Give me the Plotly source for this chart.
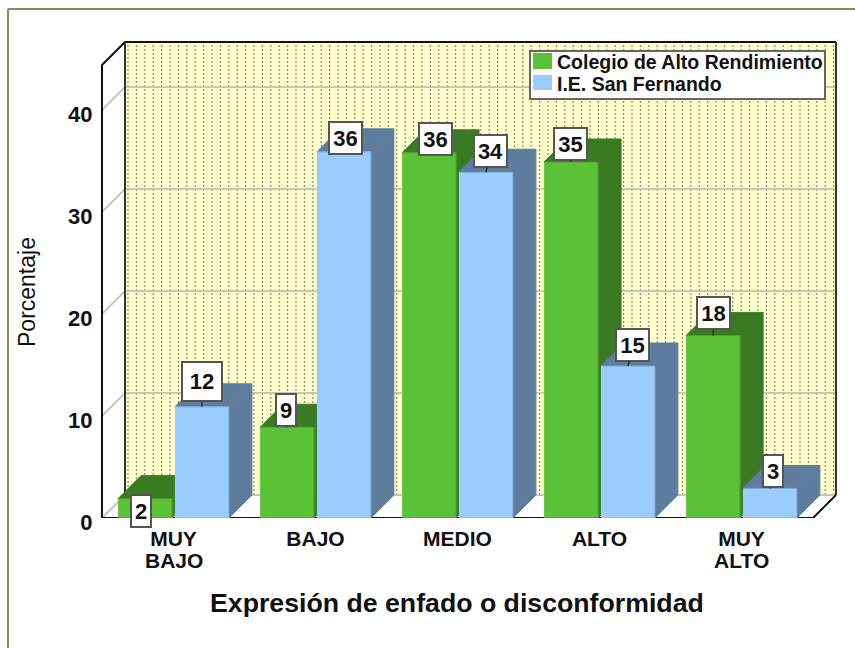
import plotly.graph_objects as go

categories_line1 = ["MUY", "BAJO", "MEDIO", "ALTO", "MUY"]
categories_line2 = ["BAJO", "", "", "", "ALTO"]
group_pos = [1, 2, 3, 4, 5]
colegio = [1.9, 8.9, 35.8, 34.9, 17.9]
san_fernando = [10.9, 35.9, 33.9, 14.9, 2.9]
colegio_labels = ["2", "9", "36", "35", "18"]
san_fernando_labels = ["12", "36", "34", "15", "3"]
y_ticks = [0, 10, 20, 30, 40]

# offset of each label box from the top of its bar, in pixels
colegio_offsets = [(-4, 12), (-1, -17), (6, -14), (-1, -18), (0, -22)]
san_fernando_offsets = [(0, -25), (2, -14), (5, -21), (5, -21), (3, -17)]
# the "12" box is drawn larger than the others in the original
colegio_boxes = [(20, 32), (20, 32), (33, 32), (33, 32), (33, 32)]
san_fernando_boxes = [(40, 39), (33, 32), (33, 32), (33, 32), (20, 32)]

WIDTH, HEIGHT = 855, 648
M_L, M_R, M_T, M_B = 100, 15, 40, 130
FONT = "Liberation Sans"
GREEN, GREEN_DARK, GREEN_LINE = "#5BC136", "#3A7A22", "#4A9A2C"
BLUE, BLUE_DARK, BLUE_LINE = "#99CCFF", "#5E7D9E", "#7FA8D0"
WALL = "#FFFFCC"
GRID = "#C8C8B8"
FRAME = "#6F9A55"


# picture pixels to data units
def xd(px):
    return 1 + (px - 173.5) / 142


def yd(py):
    return (518 - py) / 10.2


# picture pixels to paper units (paper is the plot area)
def xp(px):
    return (px - M_L) / (WIDTH - M_L - M_R)


def yp(py):
    return 1 - (py - M_T) / (HEIGHT - M_T - M_B)


DEPTH_X = 23 / 142
DEPTH_Y = 23 / 10.2
BAR_W = 0.38
BAR_OFF = 0.2
LEFT, RIGHT = xd(102), xd(813)
TOP = yd(65)

fig = go.Figure()


def add_poly(xs, ys, fill, line=None, width=1):
    fig.add_trace(go.Scatter(
        x=xs, y=ys, mode="lines", fill="toself", fillcolor=fill,
        line=dict(color=line or fill, width=width),
        hoverinfo="skip", showlegend=False,
    ))


def add_lines(xs, ys, color, width=2, dash=None):
    fig.add_trace(go.Scatter(
        x=xs, y=ys, mode="lines", line=dict(color=color, width=width, dash=dash),
        hoverinfo="skip", showlegend=False,
    ))


# walls
add_poly([LEFT, LEFT + DEPTH_X, LEFT + DEPTH_X, LEFT], [0, DEPTH_Y, TOP + DEPTH_Y, TOP], "white")
add_poly([LEFT + DEPTH_X, RIGHT + DEPTH_X, RIGHT + DEPTH_X, LEFT + DEPTH_X],
         [DEPTH_Y, DEPTH_Y, TOP + DEPTH_Y, TOP + DEPTH_Y], WALL)

# dotted columns on the back wall
dot_x, dot_y = [], []
col = 128.0
while col < 836:
    dot_x += [xd(col), xd(col), None]
    dot_y += [DEPTH_Y, TOP + DEPTH_Y, None]
    col += 8.4
add_lines(dot_x, dot_y, "#8A8A7A", width=1.2, dash="2px,2px")

# gridlines run along the left wall and the back wall
grid_x, grid_y = [], []
for v in y_ticks:
    grid_x += [LEFT, LEFT + DEPTH_X, RIGHT + DEPTH_X, None]
    grid_y += [v, v + DEPTH_Y, v + DEPTH_Y, None]
add_lines(grid_x, grid_y, GRID)

# wall outlines
add_lines([LEFT, LEFT, LEFT + DEPTH_X, RIGHT + DEPTH_X],
          [0, TOP, TOP + DEPTH_Y, TOP + DEPTH_Y], "#111111")
add_lines([LEFT + DEPTH_X, LEFT + DEPTH_X], [DEPTH_Y, TOP + DEPTH_Y], "#333333")
add_lines([RIGHT + DEPTH_X, RIGHT + DEPTH_X], [DEPTH_Y, TOP + DEPTH_Y], "#333333")
add_lines([LEFT, RIGHT, RIGHT + DEPTH_X], [0, 0, DEPTH_Y], "#111111")


def add_bar(center, value, front, side, edge):
    l, r = center - BAR_W / 2, center + BAR_W / 2
    add_poly([r, r + DEPTH_X, r + DEPTH_X, r], [0, DEPTH_Y, value + DEPTH_Y, value], side)
    add_poly([l, l + DEPTH_X, r + DEPTH_X, r], [value, value + DEPTH_Y, value + DEPTH_Y, value], side)
    add_poly([l, r, r, l], [0, 0, value, value], front, line=edge)


# left to right so that nearer faces cover the side of the previous bar
for i, pos in enumerate(group_pos):
    add_bar(pos - BAR_OFF, colegio[i], GREEN, GREEN_DARK, GREEN_LINE)
    add_bar(pos + BAR_OFF, san_fernando[i], BLUE, BLUE_DARK, BLUE_LINE)

annotations = []


def add_labels(sign, values, labels, offsets, boxes):
    for pos, v, t, (dx, dy), (w, h) in zip(group_pos, values, labels, offsets, boxes):
        annotations.append(dict(
            x=pos + sign * BAR_OFF, y=v, text=f"<b>{t}</b>", xref="x", yref="y",
            ax=dx, ay=dy, showarrow=True, arrowhead=0, arrowwidth=1.5, arrowcolor="#333333",
            width=w - 2, height=h - 2, bgcolor="white",
            bordercolor="#555555", borderwidth=2, borderpad=0,
            font=dict(family=FONT, size=22, color="#111111"),
        ))


add_labels(-1, colegio, colegio_labels, colegio_offsets, colegio_boxes)
add_labels(1, san_fernando, san_fernando_labels, san_fernando_offsets, san_fernando_boxes)

# legend
shapes = [
    dict(type="rect", xref="paper", yref="paper", x0=xp(530), x1=xp(825), y0=yp(51), y1=yp(99),
         fillcolor="white", line=dict(color="#666666", width=2), layer="above"),
    dict(type="rect", xref="paper", yref="paper", x0=xp(533), x1=xp(552), y0=yp(53), y1=yp(69),
         fillcolor=GREEN, line=dict(width=0), layer="above"),
    dict(type="rect", xref="paper", yref="paper", x0=xp(533), x1=xp(552), y0=yp(75), y1=yp(90),
         fillcolor=BLUE, line=dict(width=0), layer="above"),
    # frame of the original page, only top and left show
    dict(type="line", xref="paper", yref="paper", x0=xp(8), x1=xp(855), y0=yp(9), y1=yp(9),
         line=dict(color=FRAME, width=2), layer="above"),
    dict(type="line", xref="paper", yref="paper", x0=xp(8), x1=xp(8), y0=yp(9), y1=yp(648),
         line=dict(color=FRAME, width=2), layer="above"),
]

for text, py in [("Colegio de Alto Rendimiento", 62), ("I.E. San Fernando", 84)]:
    annotations.append(dict(
        x=xp(555), y=yp(py), xref="paper", yref="paper", text=f"<b>{text}</b>", showarrow=False,
        xanchor="left", yanchor="middle", font=dict(family=FONT, size=19.5, color="#111111"),
    ))

# second line of the two-word categories, the line gap is tighter than a <br> gives
for pos, text in zip(group_pos, categories_line2):
    if text:
        annotations.append(dict(
            x=pos, y=yp(560), xref="x", yref="paper", text=f"<b>{text}</b>", showarrow=False,
            xanchor="center", yanchor="middle", font=dict(family=FONT, size=21, color="#111111"),
        ))

annotations.append(dict(
    x=xp(457), y=yp(603), xref="paper", yref="paper", showarrow=False,
    text="<b>Expresión de enfado o disconformidad</b>", xanchor="center", yanchor="middle",
    font=dict(family=FONT, size=26.7, color="#111111"),
))
annotations.append(dict(
    x=xp(27), y=yp(292), xref="paper", yref="paper", showarrow=False, textangle=-90,
    text="Porcentaje", xanchor="center", yanchor="middle",
    font=dict(family=FONT, size=23, color="#111111"),
))

fig.update_layout(
    width=WIDTH, height=HEIGHT,
    margin=dict(l=M_L, r=M_R, t=M_T, b=M_B, pad=0),
    paper_bgcolor="white", plot_bgcolor="white",
    showlegend=False,
    shapes=shapes, annotations=annotations,
    xaxis=dict(
        range=[xd(100), xd(840)], tickmode="array", tickvals=group_pos,
        ticktext=[f"<b>{c}</b>" for c in categories_line1],
        showgrid=False, zeroline=False, showline=False, ticks="outside", ticklen=2, tickcolor="white",
        tickfont=dict(family=FONT, size=21, color="#111111"),
    ),
    yaxis=dict(
        range=[yd(518), yd(40)], tickmode="array", tickvals=y_ticks, ticktext=[f"<b>{v}</b>" for v in y_ticks],
        showgrid=False, zeroline=False, showline=False, ticks="outside", ticklen=2, tickcolor="white",
        ticklabelshift=4, tickfont=dict(family=FONT, size=22, color="#111111"),
    ),
)

fig.write_html("out.html", config=dict(displayModeBar=False), post_script="document.body.style.margin='0';")
